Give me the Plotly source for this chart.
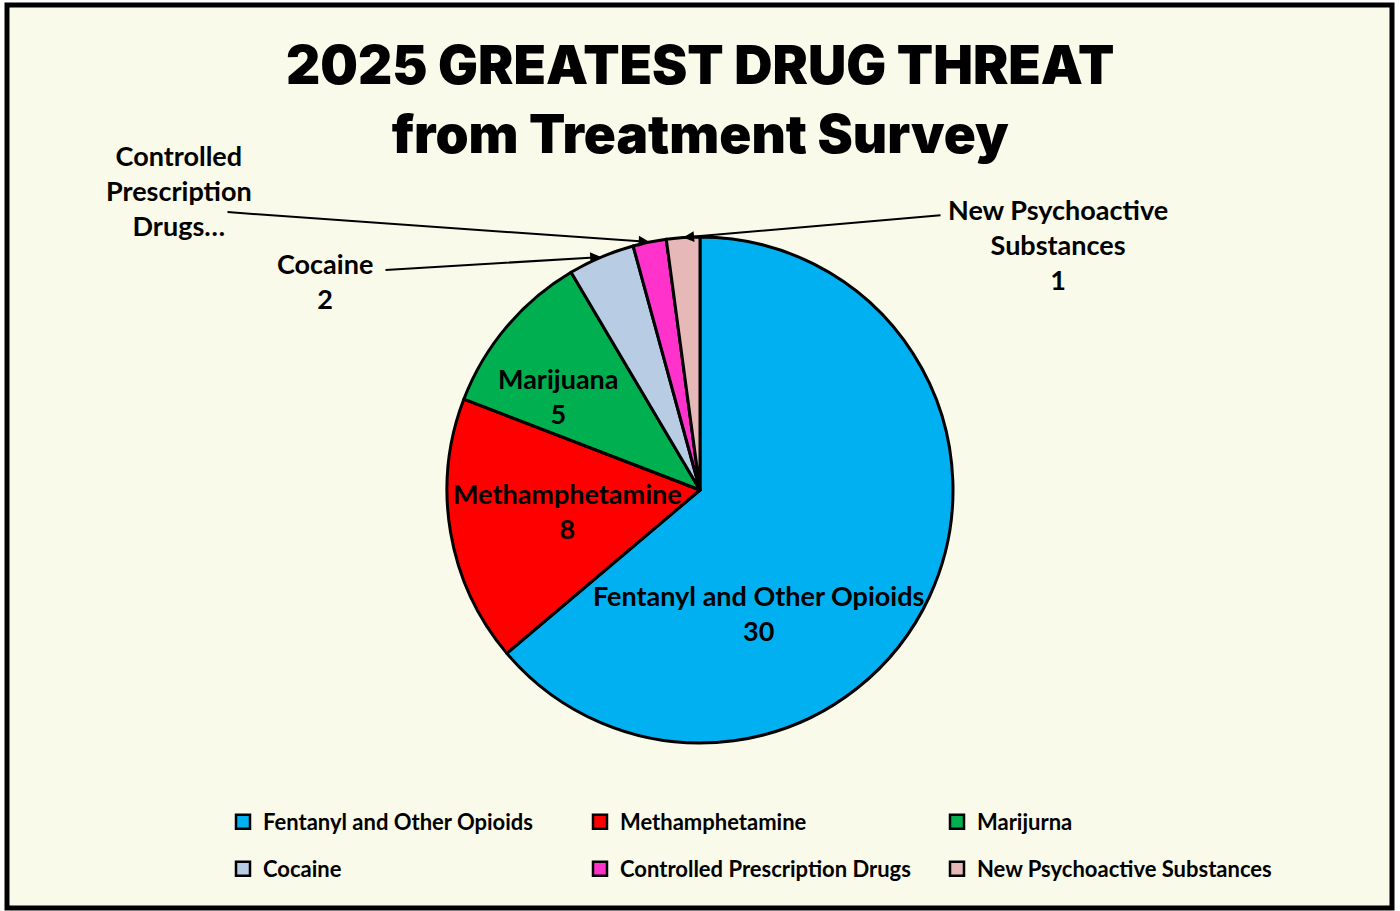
import math
import plotly.graph_objects as go

# ---------------- data ----------------
categories = ["Fentanyl and Other Opioids", "Methamphetamine", "Marijuana",
              "Cocaine", "Controlled Prescription Drugs", "New Psychoactive Substances"]
legend_names = ["Fentanyl and Other Opioids", "Methamphetamine", "Marijurna",
                "Cocaine", "Controlled Prescription Drugs", "New Psychoactive Substances"]
values = [30, 8, 5, 2, 1, 1]
colors = ["#00B0F0", "#FF0000", "#00B050", "#B8CCE4", "#FF33CC", "#E6B9B8"]
title_lines = ["2025 GREATEST DRUG THREAT", "from Treatment Survey"]

# ---------------- layout constants ----------------
W, H = 1400, 911
CX, CY, R = 700, 490, 253
BG = "#FAFAEA"
LABEL_FONT = dict(family="Lato, Open Sans, sans-serif", size=27, color="black", weight="bold")
LEG_FONT = dict(family="Lato, Open Sans, sans-serif", size=22, color="black", weight="bold")

fig = go.Figure()

fig.add_trace(go.Pie(
    labels=categories, values=values, sort=False, direction="clockwise", rotation=0,
    marker=dict(colors=colors, line=dict(color="black", width=3)),
    textinfo="none", showlegend=False, hoverinfo="label+value",
    domain=dict(x=[(CX - R) / W, (CX + R) / W], y=[1 - (CY + R) / H, 1 - (CY - R) / H]),
))

# legend entries (two rows)
for i, (n, c) in enumerate(zip(legend_names, colors)):
    fig.add_trace(go.Scatter(
        x=[None], y=[None], mode="markers", name=n,
        marker=dict(symbol="square", size=14, color=c, line=dict(color="black", width=2.5)),
        legend="legend" if i < 3 else "legend2", hoverinfo="skip",
    ))

# slice mid-angles from data
total = sum(values)
mids = []
cum = 0
for v in values:
    mids.append((cum + v / 2) / total * 2 * math.pi)
    cum += v


def edge(i):
    return CX + R * math.sin(mids[i]), CY - R * math.cos(mids[i])


annotations = []
# title
annotations.append(dict(
    x=W / 2, y=99, xref="x", yref="y", showarrow=False,
    text="<br>".join(title_lines),
    font=dict(family="Arial Black, Inter, DejaVu Sans", size=53, color="black", weight=900),
    xanchor="center", yanchor="middle",
))

# inside labels
inside_pos = {0: (758, 613), 1: (567, 511), 2: (558, 396)}
for i, (px, py) in inside_pos.items():
    annotations.append(dict(
        x=px, y=py, xref="x", yref="y", showarrow=False,
        text=f"{categories[i]}<br>{values[i]}", font=LABEL_FONT,
        xanchor="center", yanchor="middle",
    ))

# outside labels
outside_text = {
    3: f"{categories[3]}<br>{values[3]}",
    4: "Controlled<br>Prescription<br>Drugs…",
    5: f"New Psychoactive<br>Substances<br>{values[5]}",
}
outside_pos = {3: (325, 281), 4: (179, 190), 5: (1058, 244)}
tails = {3: (384, 270), 4: (226, 212), 5: (942, 215)}
for i in (3, 4, 5):
    px, py = outside_pos[i]
    annotations.append(dict(
        x=px, y=py, xref="x", yref="y", showarrow=False,
        text=outside_text[i], font=LABEL_FONT, xanchor="center", yanchor="middle",
    ))
    tx, ty = edge(i)
    ax, ay = tails[i]
    annotations.append(dict(
        x=tx, y=ty, xref="x", yref="y", axref="x", ayref="y", ax=ax, ay=ay,
        text="", showarrow=True, arrowhead=2, arrowsize=1.1, arrowwidth=2,
        arrowcolor="black", standoff=0,
    ))

fig.update_layout(
    width=W, height=H, margin=dict(l=0, r=0, t=0, b=0),
    paper_bgcolor="white", plot_bgcolor="rgba(0,0,0,0)",
    xaxis=dict(range=[0, W], visible=False, fixedrange=True),
    yaxis=dict(range=[H, 0], visible=False, fixedrange=True),
    shapes=[dict(type="rect", xref="x", yref="y", x0=7, x1=1392, y0=5, y1=908,
                 line=dict(color="black", width=5), fillcolor=BG, layer="below")],
    annotations=annotations,
    legend=dict(orientation="h", x=223 / W, y=1 - 822 / H, xanchor="left", yanchor="middle",
                entrywidth=312, entrywidthmode="pixels", font=LEG_FONT,
                bgcolor="rgba(0,0,0,0)", traceorder="normal", itemsizing="trace"),
    legend2=dict(orientation="h", x=223 / W, y=1 - 869 / H, xanchor="left", yanchor="middle",
                 entrywidth=312, entrywidthmode="pixels", font=LEG_FONT,
                 bgcolor="rgba(0,0,0,0)", traceorder="normal", itemsizing="trace"),
    hovermode=False,
)

fig.write_html("out.html")
